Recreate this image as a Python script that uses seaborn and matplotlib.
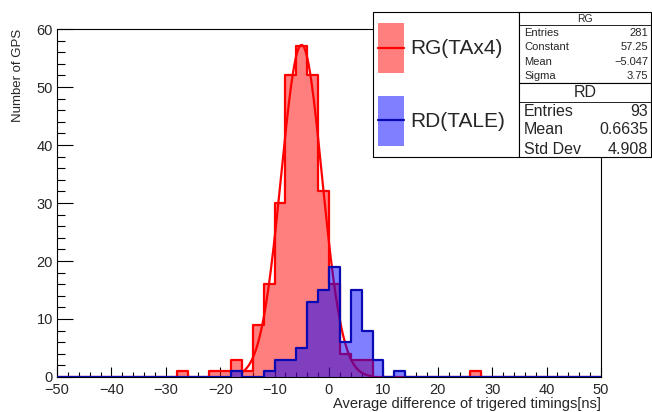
import numpy as np
import pandas as pd
import matplotlib
matplotlib.use("Agg")
import matplotlib.pyplot as plt
import seaborn as sns
from matplotlib.patches import Rectangle
from matplotlib.lines import Line2D
from matplotlib.ticker import MultipleLocator

# left edges of the 2 ns bins and their counts
rg_bins = [-28, -22, -20, -18, -16, -14, -12, -10, -8, -6, -4, -2, 0, 2, 4, 6, 26]
rg_counts = [1, 1, 1, 3, 1, 9, 16, 30, 52, 57, 52, 32, 16, 4, 3, 3, 1]
rd_bins = [-18, -12, -10, -8, -6, -4, -2, 0, 2, 4, 6, 8, 12]
rd_counts = [1, 1, 3, 3, 5, 13, 15, 19, 6, 15, 8, 3, 1]

# gaussian fit on RG (values from the stat box)
fit_const = 57.25
fit_mean = -5.047
fit_sigma = 3.75
fit_lo, fit_hi = -16, 8

rg_stats = [("Entries", "281"), ("Constant", "57.25"), ("Mean", "\u22125.047"), ("Sigma", "3.75")]
rd_stats = [("Entries", "93"), ("Mean", "0.6635"), ("Std Dev", "4.908")]

RED = "#ff0000"
BLUE = "#0a0ab4"

sns.set_style("white")
plt.rcParams["font.family"] = ["Liberation Sans", "DejaVu Sans"]

fig = plt.figure(figsize=(6.52, 4.12), dpi=100)
ax = fig.add_axes([57 / 652, 1 - 377 / 412, 544 / 652, 348 / 412])

rg = pd.DataFrame({"x": np.array(rg_bins) + 1.0, "w": rg_counts})
rd = pd.DataFrame({"x": np.array(rd_bins) + 1.0, "w": rd_counts})
hist_kw = dict(x="x", weights="w", binwidth=2, binrange=(-50, 50), element="step", ax=ax)

# RG: filled + outline
sns.histplot(data=rg, fill=True, color=RED, alpha=0.5, linewidth=0, zorder=1, **hist_kw)
sns.histplot(data=rg, fill=False, color=RED, linewidth=1.6, zorder=2, **hist_kw)

# gaussian fit curve
xs = np.linspace(fit_lo, fit_hi, 300)
ax.plot(xs, fit_const * np.exp(-0.5 * ((xs - fit_mean) / fit_sigma) ** 2),
        color=RED, lw=1.6, zorder=3)

# RD: filled + outline on top
sns.histplot(data=rd, fill=True, color="#0000ff", alpha=0.5, linewidth=0, zorder=4, **hist_kw)
sns.histplot(data=rd, fill=False, color=BLUE, linewidth=1.6, zorder=5, **hist_kw)

ax.set_xlim(-50, 50)
ax.set_ylim(0, 60)
ax.xaxis.set_major_locator(MultipleLocator(10))
ax.xaxis.set_minor_locator(MultipleLocator(2))
ax.yaxis.set_major_locator(MultipleLocator(10))
ax.yaxis.set_minor_locator(MultipleLocator(2))
ax.tick_params(which="both", direction="in", bottom=True, left=True, top=False, right=False,
               labelsize=10.5, color="black", width=0.8)
ax.tick_params(axis="x", which="major", length=7.2, pad=4)
ax.tick_params(axis="x", which="minor", length=3.6)
ax.tick_params(axis="y", which="major", length=11.5, pad=3)
ax.tick_params(axis="y", which="minor", length=5.8)
for s in ax.spines.values():
    s.set_color("black")
    s.set_linewidth(0.8)

ax.set_xlabel("Average difference of trigered timings[ns]", loc="right", fontsize=10.5)
ax.xaxis.set_label_coords(1.0, -0.058)
ax.set_ylabel("Number of GPS", loc="top", fontsize=9.5)
ax.yaxis.set_label_coords(-0.061, 1.0)

# legend and stat boxes drawn in pixel space on an overlay
ov = fig.add_axes([0, 0, 1, 1], zorder=10)
ov.set_xlim(0, 652)
ov.set_ylim(412, 0)
ov.axis("off")
ov.patch.set_alpha(0)

for (x0, y0, w, h) in [(373, 12, 146, 145), (519, 12, 132, 71), (519, 83, 132, 74)]:
    ov.add_patch(Rectangle((x0, y0), w, h, facecolor="white", edgecolor="black", lw=0.8))
ov.add_line(Line2D([519, 651], [25, 25], color="black", lw=0.6))
ov.add_line(Line2D([519, 651], [102, 102], color="black", lw=0.6))

ov.add_patch(Rectangle((378, 23), 26, 50, facecolor=RED, alpha=0.5, lw=0))
ov.add_line(Line2D([378, 404], [48, 48], color=RED, lw=1.6))
ov.add_patch(Rectangle((378, 96), 26, 50, facecolor="#0000ff", alpha=0.5, lw=0))
ov.add_line(Line2D([378, 404], [120, 120], color=BLUE, lw=1.6))
ov.text(410, 48, "RG(TAx4)", fontsize=15, va="center", ha="left")
ov.text(410, 121, "RD(TALE)", fontsize=15, va="center", ha="left")

ov.text(585, 19, "RG", fontsize=7.5, va="center", ha="center")
for i, (k, v) in enumerate(rg_stats):
    y = 33 + i * 14.3
    ov.text(524, y, k, fontsize=8, va="center", ha="left")
    ov.text(648, y, v, fontsize=8, va="center", ha="right")

ov.text(585, 92, "RD", fontsize=11.5, va="center", ha="center")
for i, (k, v) in enumerate(rd_stats):
    y = 111 + i * 19
    ov.text(524, y, k, fontsize=11.5, va="center", ha="left")
    ov.text(648, y, v, fontsize=11.5, va="center", ha="right")

fig.savefig("out.png", dpi=100)
